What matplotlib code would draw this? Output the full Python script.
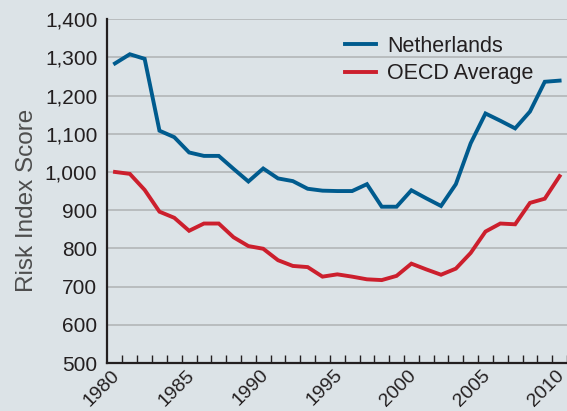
import matplotlib
matplotlib.use("Agg")
import matplotlib.pyplot as plt
from matplotlib.transforms import ScaledTranslation
import numpy as np

years = list(range(1980, 2011))
netherlands = [1284, 1308, 1296, 1108, 1091, 1051, 1042, 1042, 1008, 975,
               1009, 983, 976, 956, 951, 950, 950, 968, 909, 909,
               952, 931, 911, 968, 1075, 1153, 1134, 1114, 1158, 1236, 1239]
oecd = [1000, 995, 953, 896, 880, 846, 865, 865, 829, 806,
        799, 769, 754, 751, 726, 732, 726, 719, 717, 728,
        760, 745, 731, 747, 788, 844, 865, 863, 919, 930, 989]
series_names = ["Netherlands", "OECD Average"]
xtick_labels = ["1980", "1985", "1990", "1995", "2000", "2005", "2010"]
y_ticks = [500, 600, 700, 800, 900, 1000, 1100, 1200, 1300, 1400]

bg = "#dce3e7"
txt = "#231f20"
blue = "#005b8e"
red = "#cc1f2d"

plt.rcParams['font.family'] = ['Liberation Sans', 'DejaVu Sans']

fig = plt.figure(figsize=(5.67, 4.11), dpi=100, facecolor=bg)
ax = fig.add_axes([107/567, 1 - 363/411, 460/567, (363 - 19.1)/411])
ax.set_facecolor(bg)

ax.plot(years, netherlands, color=blue, lw=2.8, label=series_names[0],
        solid_joinstyle='miter', zorder=3)
ax.plot(years, oecd, color=red, lw=2.8, label=series_names[1],
        solid_joinstyle='miter', zorder=3)

ax.set_ylim(500, 1400)
ax.set_xlim(1979.46, 2010.5)
ax.set_yticks(y_ticks)
ax.set_yticklabels([f"{v:,}" for v in y_ticks])
for v in y_ticks[1:]:
    ax.axhline(v, color="#b9bcbe", lw=1.4, zorder=1)

tick_pos = [y + 0.5 for y in range(1980, 2011)]
ax.set_xticks(tick_pos)
labels = []
for p in tick_pos:
    yr = int(p - 0.5)
    labels.append(str(yr) if str(yr) in xtick_labels else "")
ax.set_xticklabels(labels, rotation=45, ha='right', va='center',
                   rotation_mode='anchor', fontsize=14, color=txt)
ax.tick_params(axis='x', direction='in', length=6, width=1.0, color=txt, pad=7)
ax.tick_params(axis='y', length=0, pad=7, labelsize=15, labelcolor=txt)
shift = ScaledTranslation(-5/100, 0, fig.dpi_scale_trans)
for lab in ax.get_xticklabels():
    lab.set_transform(lab.get_transform() + shift)

for s in ['top', 'right']:
    ax.spines[s].set_visible(False)
for s in ['left', 'bottom']:
    ax.spines[s].set_color(txt)
    ax.spines[s].set_linewidth(1.6)
    ax.spines[s].set_zorder(4)

ylab = ax.set_ylabel("Risk Index Score", fontsize=17.5, color="#4d4d4d",
                     family=['Liberation Sans'])
ylab.set_ha('center')
ylab.set_va('center')
ax.yaxis.set_label_coords((27 - 107) / 460, (363 - 200) / 343.9)

leg = ax.legend(loc='upper left', bbox_to_anchor=(0.517, 0.952), frameon=False,
                fontsize=15.5, handlelength=1.45, handletextpad=0.5,
                labelspacing=0.3, borderpad=0, borderaxespad=0)
for t in leg.get_texts():
    t.set_color(txt)

fig.savefig("out.png", dpi=100, facecolor=bg)
